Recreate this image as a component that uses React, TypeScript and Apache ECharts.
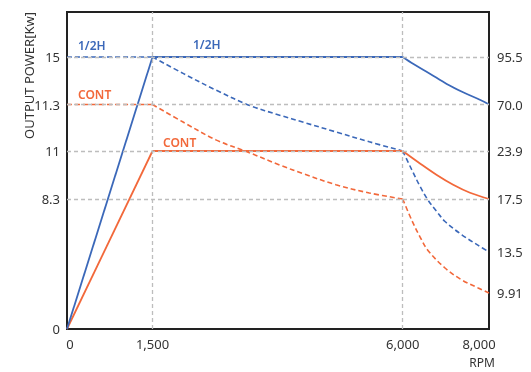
import React, { useEffect, useRef } from "react";
import * as echarts from "echarts";

// Axis ticks (real units) and their labels
const rpmTicks = [0, 1500, 6000, 8000];
const rpmTickLabels = ["0", "1,500", "6,000", "8,000"];
const powerTicks = [0, 8.3, 11, 11.3, 15];
const powerTickLabels = ["0", "8.3", "11", "11.3", "15"];
const torqueTicks = [9.91, 13.5, 17.5, 23.9, 70.0, 95.5];
const torqueTickLabels = ["9.91", "13.5", "17.5", "23.9", "70.0", "95.5"];

// Series
const halfPowerRpm = [0, 1500, 6000, 6250, 6630, 7020, 7400, 7800, 8000];
const halfPowerKw = [0, 15, 15, 14.45, 13.7, 12.9, 12.25, 11.65, 11.3];
const contPowerRpm = [0, 1500, 6000, 6400, 6790, 7170, 7560, 8000];
const contPowerKw = [0, 11, 11, 10.3, 9.65, 9.1, 8.65, 8.3];
const halfTorqueRpm = [0, 1500, 2050, 2650, 3250, 3800, 4200, 4800, 5400, 6000, 6210, 6400, 6590, 6790, 6980, 7370, 7750, 8000];
const halfTorqueNm = [95.5, 95.5, 86.7, 77.6, 69.0, 59.2, 52.6, 42.8, 33.0, 23.9, 21.4, 19.2, 17.4, 16.55, 15.8, 14.8, 14.0, 13.5];
const contTorqueRpm = [0, 1500, 2050, 2650, 3200, 3800, 4200, 4800, 5400, 6000, 6210, 6400, 6590, 6980, 7370, 7750, 8000];
const contTorqueNm = [70.0, 70.0, 52.6, 34.7, 23.8, 22.0, 20.9, 19.4, 18.3, 17.5, 15.9, 14.65, 13.6, 12.1, 11.05, 10.35, 9.91];

// Speeds where the curves have corners (base speed, max constant-power speed)
const cornerRpm = [1500, 6000];

// Schematic (piecewise) axis layout: where each tick sits inside the plot (px)
const PLOT_W = 422;
const PLOT_H = 317;
const xKnotsIn = [0, 1500, 6000, 8000];
const xKnotsOut = [0, 85.5, 335.7, 422];
const pKnotsIn = [0, 8.3, 11, 11.3, 15];
const pKnotsOut = [0, 130, 178, 224.5, 272];
const tKnotsIn = [0, 9.91, 13.5, 17.5, 23.9, 70.0, 95.5];
const tKnotsOut = [0, 36, 77, 130, 178, 224.5, 272];

function pw(v: number, ins: number[], outs: number[]) {
  for (let i = 0; i < ins.length - 1; i++) {
    if (v <= ins[i + 1] || i === ins.length - 2) {
      const t = (v - ins[i]) / (ins[i + 1] - ins[i]);
      return outs[i] + t * (outs[i + 1] - outs[i]);
    }
  }
  return outs[outs.length - 1];
}
const mx = (v: number) => pw(v, xKnotsIn, xKnotsOut);
const mp = (v: number) => pw(v, pKnotsIn, pKnotsOut);
const mt = (v: number) => pw(v, tKnotsIn, tKnotsOut);

const BLUE = "#3b68b9";
const ORANGE = "#f2683a";
const FONT = "Noto Sans";

function lookup(v: number, ticks: number[], map: (n: number) => number, labels: string[]) {
  for (let i = 0; i < ticks.length; i++) {
    if (Math.abs(map(ticks[i]) - v) < 0.01) return labels[i];
  }
  return "";
}

// split a curve at the corner speeds so that smoothing never rounds a corner
function segments(rpm: number[], vals: number[], m: (n: number) => number) {
  const segs: number[][][] = [];
  let cur: number[][] = [];
  rpm.forEach((r, i) => {
    const p = [mx(r), m(vals[i])];
    cur.push(p);
    if (cornerRpm.includes(r) && i > 0 && i < rpm.length - 1) {
      segs.push(cur);
      cur = [p];
    }
  });
  if (cur.length > 1) segs.push(cur);
  return segs;
}

export default function App() {
  const ref = useRef<HTMLDivElement>(null);
  useEffect(() => {
    if (!ref.current) return;
    const chart = echarts.init(ref.current, null, { renderer: "svg" });
    const dashed = [5, 3];

    const curve = (name: string, rpm: number[], vals: number[], m: (n: number) => number, color: string, isDashed: boolean, z: number) =>
      segments(rpm, vals, m).map((seg, k) => ({
        name: `${name}-${k}`,
        type: "line",
        z,
        symbol: "none",
        smooth: 0.35,
        data: seg,
        lineStyle: { color, width: isDashed ? 1.6 : 1.8, type: isDashed ? dashed : "solid" },
      }));

    chart.setOption({
      animation: false,
      textStyle: { fontFamily: FONT },
      grid: {
        left: 67,
        top: 12,
        width: PLOT_W,
        height: PLOT_H,
        show: true,
        borderColor: "#222",
        borderWidth: 2,
        backgroundColor: "transparent",
      },
      xAxis: {
        type: "value",
        min: 0,
        max: PLOT_W,
        axisLine: { show: false },
        axisTick: { show: false },
        splitLine: { show: false },
        axisLabel: {
          customValues: rpmTicks.map(mx),
          formatter: (v: number) => {
            const s = lookup(v, rpmTicks, mx, rpmTickLabels);
            if (s === rpmTickLabels[rpmTickLabels.length - 1]) return `{last|${s}}`;
            if (s === rpmTickLabels[0]) return `{first|${s}}`;
            return s;
          },
          color: "#333",
          fontSize: 13,
          fontFamily: FONT,
          margin: 8,
          rich: {
            last: { padding: [0, 20, 0, 0], fontSize: 13, color: "#333", fontFamily: FONT },
            first: { padding: [0, 0, 0, 6], fontSize: 13, color: "#333", fontFamily: FONT },
          },
        },
      },
      yAxis: [
        {
          type: "value",
          min: 0,
          max: PLOT_H,
          position: "left",
          axisLine: { show: false },
          axisTick: { show: false },
          splitLine: { show: false },
          axisLabel: {
            customValues: powerTicks.map(mp),
            formatter: (v: number) => lookup(v, powerTicks, mp, powerTickLabels),
            color: "#333",
            fontSize: 13,
            fontFamily: FONT,
            margin: 7,
          },
        },
        {
          type: "value",
          min: 0,
          max: PLOT_H,
          position: "right",
          axisLine: { show: false },
          axisTick: { show: false },
          splitLine: { show: false },
          axisLabel: {
            customValues: torqueTicks.map(mt),
            formatter: (v: number) => lookup(v, torqueTicks, mt, torqueTickLabels),
            color: "#333",
            fontSize: 13,
            fontFamily: FONT,
            margin: 8,
          },
        },
      ],
      graphic: [
        {
          type: "text",
          x: 29,
          y: 12,
          rotation: Math.PI / 2,
          style: {
            text: "OUTPUT POWER[Kw]",
            fill: "#333",
            font: `13px "${FONT}"`,
            align: "right",
            verticalAlign: "middle",
          },
        },
        {
          type: "text",
          x: 535,
          y: 12,
          rotation: Math.PI / 2,
          style: {
            text: "TORQUE[Nm]",
            fill: "#333",
            font: `13px "${FONT}"`,
            align: "right",
            verticalAlign: "middle",
          },
        },
        {
          type: "text",
          x: 482,
          y: 362,
          style: { text: "RPM", fill: "#333", font: `12px "${FONT}"`, align: "center", verticalAlign: "middle" },
        },
        {
          type: "text",
          x: 78,
          y: 45,
          style: { text: "1/2H", fill: BLUE, font: `600 12px "${FONT}"`, align: "left", verticalAlign: "middle" },
        },
        {
          type: "text",
          x: 193,
          y: 44,
          style: { text: "1/2H", fill: BLUE, font: `600 12px "${FONT}"`, align: "left", verticalAlign: "middle" },
        },
        {
          type: "text",
          x: 78,
          y: 94,
          style: { text: "CONT", fill: ORANGE, font: `600 12px "${FONT}"`, align: "left", verticalAlign: "middle" },
        },
        {
          type: "text",
          x: 163,
          y: 142,
          style: { text: "CONT", fill: ORANGE, font: `600 12px "${FONT}"`, align: "left", verticalAlign: "middle" },
        },
      ],
      series: [
        {
          type: "line",
          z: 1,
          data: [[0, 0]],
          showSymbol: false,
          symbol: "none",
          lineStyle: { width: 0 },
          silent: true,
          markLine: {
            silent: true,
            symbol: "none",
            label: { show: false },
            lineStyle: { color: "#bdbdbd", type: [4, 3], width: 1.3 },
            data: [
              ...powerTicks.slice(1).map((v) => ({ yAxis: mp(v) })),
              ...rpmTicks.slice(1, 3).map((v) => ({ xAxis: mx(v) })),
            ],
          },
        },
        ...curve("CONT torque", contTorqueRpm, contTorqueNm, mt, ORANGE, true, 3),
        ...curve("1/2H torque", halfTorqueRpm, halfTorqueNm, mt, BLUE, true, 3),
        ...curve("CONT power", contPowerRpm, contPowerKw, mp, ORANGE, false, 4),
        ...curve("1/2H power", halfPowerRpm, halfPowerKw, mp, BLUE, false, 4),
      ],
    });
    return () => chart.dispose();
  }, []);
  return <div ref={ref} style={{ position: "fixed", left: 0, top: 0, width: 531, height: 372 }} />;
}
